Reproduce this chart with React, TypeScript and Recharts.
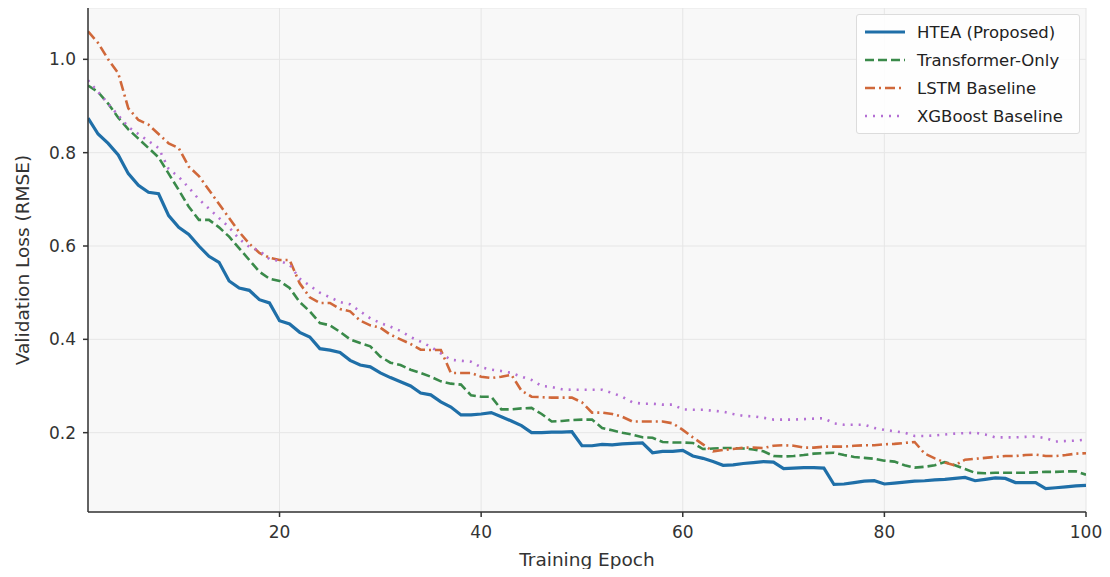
import { LineChart, Line, XAxis, YAxis, CartesianGrid } from 'recharts';

const htea = [
  0.874, 0.84, 0.82, 0.795, 0.755, 0.73, 0.715, 0.712, 0.665, 0.64,
  0.625, 0.6, 0.578, 0.565, 0.525, 0.51, 0.505, 0.485, 0.478, 0.44,
  0.433, 0.415, 0.405, 0.38, 0.377, 0.372, 0.355, 0.345, 0.341, 0.328,
  0.318, 0.309, 0.3, 0.285, 0.281, 0.266, 0.255, 0.238, 0.238, 0.24,
  0.243, 0.234, 0.225, 0.215, 0.2, 0.2, 0.201, 0.201, 0.202, 0.172,
  0.172, 0.175, 0.174, 0.176, 0.177, 0.178, 0.157, 0.16, 0.16, 0.162,
  0.15, 0.145, 0.138, 0.13, 0.131, 0.134, 0.136, 0.138, 0.137, 0.123,
  0.124, 0.125, 0.125, 0.124, 0.089, 0.09, 0.093, 0.096, 0.097, 0.09,
  0.092, 0.094, 0.096, 0.097, 0.099, 0.1, 0.102, 0.104, 0.097, 0.1,
  0.103, 0.102, 0.093, 0.093, 0.093, 0.08, 0.082, 0.084, 0.086, 0.087,
];

const transformer = [
  0.944, 0.93, 0.905, 0.875, 0.85, 0.83, 0.81, 0.79, 0.755, 0.72,
  0.684, 0.656, 0.656, 0.64, 0.62, 0.595, 0.57, 0.545, 0.53, 0.525,
  0.51, 0.48, 0.46, 0.435, 0.43, 0.416, 0.4, 0.392, 0.385, 0.363,
  0.35, 0.345, 0.335, 0.328, 0.32, 0.31, 0.305, 0.303, 0.28, 0.277,
  0.277, 0.25, 0.25, 0.252, 0.253, 0.24, 0.224, 0.225, 0.227, 0.228,
  0.228, 0.21, 0.205, 0.2, 0.196, 0.19, 0.189, 0.18, 0.179, 0.179,
  0.178, 0.165, 0.166, 0.167, 0.167, 0.166, 0.164, 0.16, 0.15, 0.149,
  0.15, 0.152, 0.155, 0.156, 0.157, 0.152, 0.148, 0.146, 0.144, 0.14,
  0.138, 0.13, 0.125, 0.127, 0.13, 0.137, 0.13, 0.122, 0.114, 0.113,
  0.114, 0.114, 0.114, 0.114, 0.115, 0.116, 0.116, 0.117, 0.117, 0.11,
];

const lstm = [
  1.06, 1.035, 1.0, 0.97, 0.895, 0.87, 0.86, 0.84, 0.82, 0.81,
  0.77, 0.75, 0.72, 0.69, 0.66, 0.63, 0.605, 0.585, 0.575, 0.57,
  0.57, 0.52, 0.49, 0.478, 0.478, 0.465, 0.46, 0.44, 0.43, 0.425,
  0.41, 0.4, 0.39, 0.378, 0.377, 0.377, 0.328, 0.328, 0.328, 0.32,
  0.317, 0.32, 0.324, 0.29, 0.277, 0.276, 0.275, 0.275, 0.275, 0.265,
  0.243, 0.243, 0.24, 0.234, 0.224, 0.224, 0.224, 0.224, 0.22, 0.206,
  0.19, 0.175, 0.16, 0.163, 0.165, 0.168, 0.168, 0.167, 0.172, 0.173,
  0.172, 0.168, 0.168, 0.17, 0.17, 0.17, 0.172, 0.173, 0.173, 0.175,
  0.176, 0.178, 0.18, 0.155, 0.145, 0.136, 0.13, 0.142, 0.144, 0.146,
  0.148, 0.15, 0.15, 0.152, 0.153, 0.15, 0.15, 0.152, 0.155, 0.156,
];

const xgboost = [
  0.955, 0.93, 0.905, 0.88, 0.855, 0.84, 0.825, 0.81, 0.765, 0.748,
  0.725, 0.7, 0.68, 0.66, 0.64, 0.615, 0.598, 0.59, 0.572, 0.568,
  0.56, 0.53, 0.515, 0.5, 0.49, 0.48, 0.475, 0.46, 0.445, 0.435,
  0.427, 0.418, 0.405, 0.395, 0.384, 0.37, 0.356, 0.354, 0.352, 0.34,
  0.335, 0.332, 0.328, 0.32, 0.313, 0.3, 0.298, 0.293, 0.292, 0.292,
  0.292, 0.292, 0.285, 0.277, 0.265, 0.262, 0.262, 0.26, 0.26, 0.25,
  0.249, 0.249, 0.247, 0.245, 0.24, 0.236, 0.235, 0.232, 0.228, 0.228,
  0.228, 0.229, 0.23, 0.231, 0.22, 0.217, 0.217, 0.217, 0.21, 0.206,
  0.203, 0.2, 0.193, 0.193, 0.194, 0.196, 0.198, 0.199, 0.2, 0.196,
  0.19, 0.19, 0.19, 0.191, 0.192, 0.188, 0.181, 0.182, 0.183, 0.185,
];

const epochs = htea.map((_, i) => i + 1);
const xTicks = [20, 40, 60, 80, 100];
const yTicks = [0.2, 0.4, 0.6, 0.8, 1.0];

const series = [
  { key: 'htea', name: 'HTEA (Proposed)', color: '#1f6fa8', width: 3.2, dash: undefined },
  { key: 'transformer', name: 'Transformer-Only', color: '#3a8a4a', width: 2.6, dash: '9 4' },
  { key: 'lstm', name: 'LSTM Baseline', color: '#d0683a', width: 2.6, dash: '10 4 2 4' },
  { key: 'xgboost', name: 'XGBoost Baseline', color: '#b46fd4', width: 2.6, dash: '2 6' },
];

const data = epochs.map((epoch, i) => ({
  epoch,
  htea: htea[i],
  transformer: transformer[i],
  lstm: lstm[i],
  xgboost: xgboost[i],
}));

const font = '"DejaVu Sans", sans-serif';

const LegendBox = () => (
  <div
    style={{
      position: 'absolute',
      left: 856,
      top: 14,
      width: 224,
      boxSizing: 'border-box',
      background: 'rgba(255,255,255,0.85)',
      border: '1px solid #dcdcdc',
      borderRadius: 3,
      padding: '3px 6px',
      fontFamily: font,
      fontSize: 16.5,
      color: '#222',
    }}
  >
    {series.map((s) => (
      <div key={s.key} style={{ display: 'flex', alignItems: 'center', height: 28 }}>
        <svg width={44} height={10} style={{ marginRight: 10 }}>
          <line x1={2} y1={5} x2={42} y2={5} stroke={s.color} strokeWidth={s.width} strokeDasharray={s.dash} />
        </svg>
        <span>{s.name}</span>
      </div>
    ))}
  </div>
);

export default function App() {
  return (
    <div style={{ margin: -8, width: 1110, height: 577, background: '#fff', position: 'relative' }}>
      <LineChart width={1110} height={577} data={data} margin={{ top: 8, right: 24, bottom: 35, left: 0 }}>
        <CartesianGrid fill="#f8f8f8" stroke="#e6e6e6" vertical horizontal />
        <XAxis
          dataKey="epoch"
          type="number"
          domain={[1, 100]}
          ticks={xTicks}
          allowDataOverflow
          height={30}
          stroke="#333"
          strokeWidth={1.5}
          tickSize={5}
          tickMargin={9}
          tick={{ fill: '#333', fontSize: 17, fontFamily: font }}
        />
        <YAxis
          type="number"
          domain={[0.03, 1.11]}
          ticks={yTicks}
          allowDataOverflow
          width={88}
          stroke="#333"
          strokeWidth={1.5}
          tickSize={5}
          tickMargin={7}
          tickFormatter={(v: number) => v.toFixed(1)}
          tick={{ fill: '#333', fontSize: 17, fontFamily: font }}
        />
        {series.map((s) => (
          <Line
            key={s.key}
            type="linear"
            dataKey={s.key}
            name={s.name}
            stroke={s.color}
            strokeWidth={s.width}
            strokeDasharray={s.dash}
            dot={false}
            activeDot={false}
            isAnimationActive={false}
          />
        ))}
      </LineChart>
      <LegendBox />
      <div
        style={{
          position: 'absolute',
          left: 88,
          width: 998,
          top: 549,
          textAlign: 'center',
          fontFamily: font,
          fontSize: 18.5,
          color: '#333',
        }}
      >
        Training Epoch
      </div>
      <div
        style={{
          position: 'absolute',
          left: 22,
          top: 260,
          transform: 'translate(-50%, -50%) rotate(-90deg)',
          whiteSpace: 'nowrap',
          fontFamily: font,
          fontSize: 18.5,
          color: '#333',
        }}
      >
        Validation Loss (RMSE)
      </div>
    </div>
  );
}
